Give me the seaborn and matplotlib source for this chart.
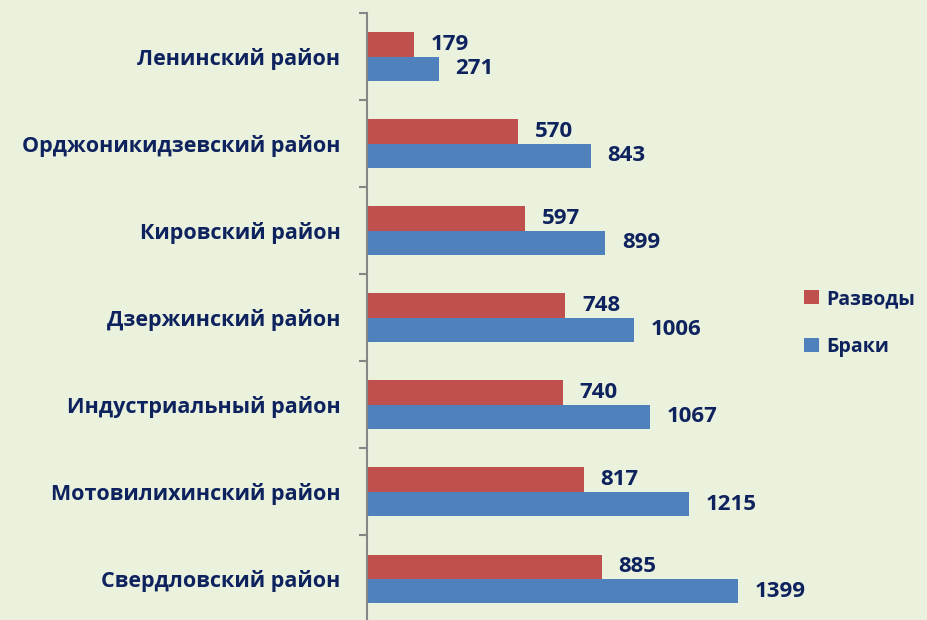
import pandas as pd
import matplotlib.pyplot as plt
import seaborn as sns

# Data
districts = ['Ленинский район', 'Орджоникидзевский район', 'Кировский район',
             'Дзержинский район', 'Индустриальный район', 'Мотовилихинский район',
             'Свердловский район']
divorces = [179, 570, 597, 748, 740, 817, 885]
marriages = [271, 843, 899, 1006, 1067, 1215, 1399]
series = ['Разводы', 'Браки']

df = pd.DataFrame({
    'district': districts * 2,
    'value': divorces + marriages,
    'kind': [series[0]] * len(districts) + [series[1]] * len(districts),
})

bg = '#EAF1DD'
navy = '#0E225E'

sns.set_style('white')
plt.rcParams['font.family'] = ['Open Sans', 'DejaVu Sans']

fig = plt.figure(figsize=(9.28, 6.2), dpi=100, facecolor=bg)
ax = fig.add_axes([367 / 928, -0.004, 0.6, 1 - 13 / 620 + 0.004])
ax.set_facecolor(bg)

sns.barplot(data=df, x='value', y='district', hue='kind', hue_order=series,
            order=districts, palette=['#C0504D', '#4F81BD'], width=0.56,
            saturation=1, orient='h', linewidth=0, ax=ax, legend=True)

for cont in ax.containers:
    ax.bar_label(cont, padding=12, color=navy, fontsize=16, fontweight='bold')

ax.set_xlim(0, 2100)
ax.set_ylim(6.5, -0.5)
ax.set_xlabel('')
ax.set_ylabel('')
ax.xaxis.set_visible(False)
for s in ['top', 'right', 'bottom']:
    ax.spines[s].set_visible(False)
ax.spines['left'].set_color('#868686')
ax.spines['left'].set_linewidth(1.5)

ax.set_yticks(range(len(districts)))
ax.set_yticklabels(districts, color=navy, fontsize=15.5, fontweight='bold')
ax.set_yticks([i - 0.5 for i in range(len(districts) + 1)], minor=True)
ax.tick_params(axis='y', which='major', length=0, pad=19)
ax.tick_params(axis='y', which='minor', length=6, width=1.5, color='#868686',
               direction='out', left=True)

handles, labels = ax.get_legend_handles_labels()
ax.get_legend().remove()
fig.legend(handles, labels, loc='upper left', bbox_to_anchor=(0.852, 0.556),
           frameon=False, handlelength=0.75, handleheight=0.75,
           handletextpad=0.4, labelspacing=1.45, borderpad=0.2,
           prop={'size': 14, 'weight': 'bold'}, labelcolor=navy)

fig.savefig('out.png', dpi=100, facecolor=bg)
